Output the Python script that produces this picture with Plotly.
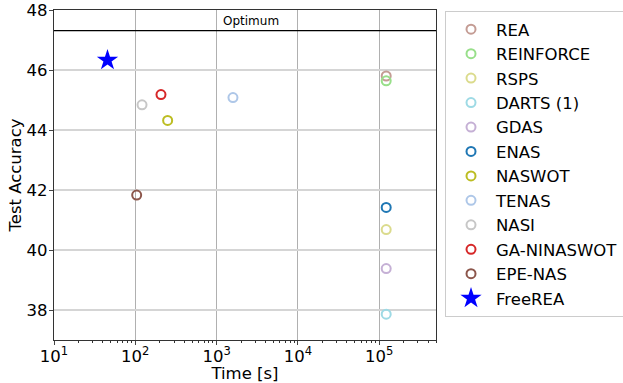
import plotly.graph_objects as go
import math

methods = ["REA", "REINFORCE", "RSPS", "DARTS (1)", "GDAS", "ENAS", "NASWOT",
           "TENAS", "NASI", "GA-NINASWOT", "EPE-NAS"]
times = [1.22e5, 1.22e5, 1.22e5, 1.22e5, 1.22e5, 1.22e5, 250, 1590, 121, 207, 104]
accs = [45.80, 45.64, 40.68, 37.86, 39.38, 41.42, 44.32, 45.08, 44.84, 45.18, 41.83]
colors = ["#c49c94", "#98df8a", "#dbdb8d", "#9edae5", "#c5b0d5", "#1f77b4",
          "#bcbd22", "#aec7e8", "#c7c7c7", "#d62728", "#8c564b"]
free_name = "FreeREA"
free_time = 45.5
free_acc = 46.33
optimum = 47.31
x_ticks = [10, 100, 1000, 10000, 100000]
x_tick_text = ["10<sup>1</sup>", "10<sup>2</sup>", "10<sup>3</sup>", "10<sup>4</sup>", "10<sup>5</sup>"]
y_ticks = [38, 40, 42, 44, 46, 48]

FONT = "DejaVu Sans"
fig = go.Figure()
for i, (m, t, a, c) in enumerate(zip(methods, times, accs, colors)):
    fig.add_trace(go.Scatter(
        x=[t], y=[a], mode="markers", name=m,
        marker=dict(symbol="circle-open", size=9, color=c, line=dict(width=2, color=c)),
    ))
fig.add_trace(go.Scatter(
    x=[free_time], y=[free_acc], mode="markers", name=free_name,
    marker=dict(symbol="star", size=16, color="#0000ff", line=dict(width=0)),
))

fig.add_shape(type="line", xref="paper", yref="y", x0=0, x1=1, y0=optimum, y1=optimum,
              line=dict(color="black", width=1.2))
fig.add_annotation(text="Optimum", xref="paper", yref="paper", x=0.516, y=1 - 11 / 330,
                   showarrow=False, font=dict(family=FONT, size=12, color="black"),
                   xanchor="center", yanchor="middle")

fig.update_layout(
    width=623, height=383,
    margin=dict(l=54, r=187, t=10, b=43, autoexpand=False),
    paper_bgcolor="white", plot_bgcolor="white",
    font=dict(family=FONT, size=16.5, color="black"),
    showlegend=True,
    legend=dict(x=1.0236, y=0.997, xanchor="left", yanchor="top",
                bordercolor="#cccccc", borderwidth=1, bgcolor="white",
                font=dict(family=FONT, size=16.5), tracegroupgap=0,
                itemwidth=40, maxheight=380),
)
fig.update_xaxes(
    type="log", range=[1, math.log10(5e5)], automargin=False,
    tickvals=x_ticks, ticktext=x_tick_text, ticks="outside", ticklen=4,
    tickfont=dict(size=16.5), ticklabelstandoff=-3,
    showgrid=True, gridcolor="#b0b0b0", gridwidth=1,
    showline=True, linecolor="#333333", linewidth=1.2, mirror=True,
    minor=dict(ticks="outside", ticklen=2, tickcolor="#333333",
               tickvals=[k * 10 ** e for e in range(1, 6) for k in range(2, 10) if k * 10 ** e <= 5e5],
               showgrid=False),
    title=dict(text="Time [s]", font=dict(size=16.5), standoff=4),
    zeroline=False,
)
fig.update_yaxes(
    range=[37, 48], tickvals=y_ticks, ticks="outside", ticklen=4, automargin=False,
    tickfont=dict(size=16.5), ticklabelstandoff=-2,
    showgrid=True, gridcolor="#d5d5d5", gridwidth=2,
    showline=True, linecolor="#333333", linewidth=1.2, mirror=True,
    title=dict(text="Test Accuracy", font=dict(size=16.5), standoff=0),
    zeroline=False,
)
fig.write_html("out.html")
